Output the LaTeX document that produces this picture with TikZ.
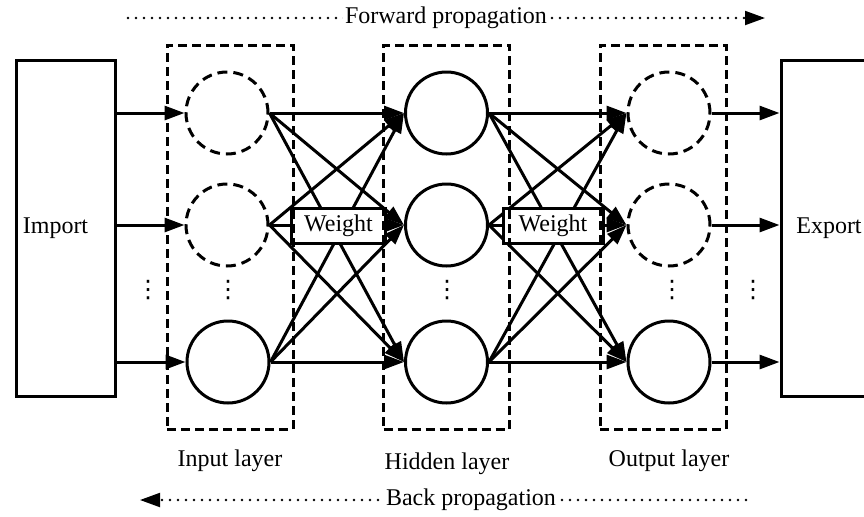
\documentclass[tikz,border=0pt]{standalone}
\usepackage{fontspec}
\setmainfont{Liberation Serif}
\newfontfamily\dotsfont{DejaVu Sans}
\usepackage{tikz}
\usetikzlibrary{arrows.meta}

\tikzset{
  neuron/.style={circle,draw,line width=1.5pt,minimum size=41pt,inner sep=0pt},
  ghost/.style={neuron,dash pattern=on 5pt off 3pt},
  layerbox/.style={draw,line width=1.5pt,dash pattern=on 4.5pt off 2.5pt,minimum width=63pt,minimum height=192pt,inner sep=0pt},
  iobox/.style={draw,line width=1.5pt,minimum height=168pt,inner sep=0pt},
  weightbox/.style={draw,fill=white,line width=1.5pt,minimum height=17.5pt,inner sep=0pt},
  vdotsnode/.style={font=\dotsfont\fontsize{12}{14}\selectfont,inner sep=0pt},
  arr/.style={line width=1.5pt,-{Triangle[length=10pt,width=7pt]}},
  propline/.style={line width=1.3pt,line cap=round,dash pattern=on 0pt off 4pt},
  proptip/.style={-{Triangle[length=10pt,width=7pt]}}
}

\begin{document}
\begin{tikzpicture}[x=0.5pt,y=-0.5pt,font=\fontsize{12}{14}\selectfont]
\useasboundingbox (0,0) rectangle (864,516);

% import / export blocks
\node[iobox,minimum width=49.5pt] (import) at (65.5,228.5) {Import\kern10pt};
\node[iobox,minimum width=48pt] (export) at (829,228) {Export};

% neurons
\node[ghost] (i1) at (227,113) {};
\node[ghost] (i2) at (227,225) {};
\node[neuron] (i3) at (228,362) {};
\node[neuron] (h1) at (446.5,113) {};
\node[neuron] (h2) at (446.5,225) {};
\node[neuron] (h3) at (446.5,362) {};
\node[ghost] (o1) at (669,113) {};
\node[ghost] (o2) at (669,225) {};
\node[neuron] (o3) at (669,362) {};

% ellipses
\node[vdotsnode] (d0) at (148,290) {⋮};
\node[vdotsnode] (d1) at (228,290) {⋮};
\node[vdotsnode] (d2) at (447,290) {⋮};
\node[vdotsnode] (d3) at (672,290) {⋮};
\node[vdotsnode] (d4) at (753,290) {⋮};

% into the input layer
\draw[arr] (import.east |- i1) -- (i1.west);
\draw[arr] (import.east |- i2) -- (i2.west);
\draw[arr] (import.east |- i3) -- (i3.west);

% input -> hidden
\draw[arr] (i1.east) -- (h1.west);
\draw[arr] (i1.east) -- (h2.west);
\draw[arr] (i1.east) -- (h3.west);
\draw[arr] (i2.east) -- (h1.west);
\draw[arr] (i2.east) -- (h2.west);
\draw[arr] (i2.east) -- (h3.west);
\draw[arr] (i3.east) -- (h1.west);
\draw[arr] (i3.east) -- (h2.west);
\draw[arr] (i3.east) -- (h3.west);

% hidden -> output
\draw[arr] (h1.east) -- (o1.west);
\draw[arr] (h1.east) -- (o2.west);
\draw[arr] (h1.east) -- (o3.west);
\draw[arr] (h2.east) -- (o1.west);
\draw[arr] (h2.east) -- (o2.west);
\draw[arr] (h2.east) -- (o3.west);
\draw[arr] (h3.east) -- (o1.west);
\draw[arr] (h3.east) -- (o2.west);
\draw[arr] (h3.east) -- (o3.west);

% out of the output layer
\draw[arr] (o1.east) -- (o1 -| export.west);
\draw[arr] (o2.east) -- (o2 -| export.west);
\draw[arr] (o3.east) -- (o3 -| export.west);

% weights
\node[weightbox,minimum width=47pt] (w1) at (338.5,225.5) {Weight};
\node[weightbox,minimum width=50pt] (w2) at (553,225.5) {Weight};

% layers
\node[layerbox] (inlayer) at (230,237) {};
\node[layerbox] (hidlayer) at (446.5,237) {};
\node[layerbox] (outlayer) at (663,237) {};
\node (inlabel) at (230,461) {Input layer};
\node (hidlabel) at (447,464) {Hidden layer};
\node (outlabel) at (669,461) {Output layer};

% propagation directions
\coordinate (fwdL) at (128,18);
\coordinate (fwdR) at (765,18);
\draw[propline] (fwdL) -- (fwdR);
\draw[proptip,line width=1pt] (752,18) -- (fwdR);
\node[fill=white,inner sep=1pt] (fwd) at (446,18) {Forward propagation};
\coordinate (backL) at (140,500);
\coordinate (backR) at (746,500);
\draw[propline] (backR) -- (backL);
\draw[proptip,line width=1pt] (153,500) -- (backL);
\node[fill=white,inner sep=1pt] (back) at (471,500) {Back propagation};
\end{tikzpicture}
\end{document}
